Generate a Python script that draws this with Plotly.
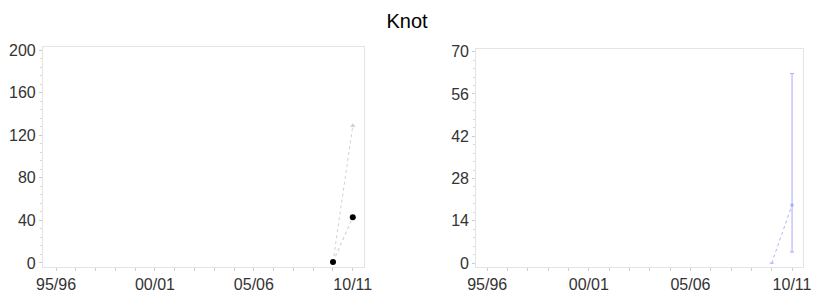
import plotly.graph_objects as go

# ---- data ----
years = [2009, 2010]
tick_years = [1995, 2000, 2005, 2010]
tick_labels = ["95/96", "00/01", "05/06", "10/11"]

left_circle = [1, 43]
left_triangle = [1, 129]

right_years = [2009, 2010]
right_values = [0, 19.2]
right_err_plus = [0, 43.6]
right_err_minus = [0, 15.5]

FONT = "Liberation Sans, Arial, sans-serif"

fig = go.Figure()

fig.add_trace(go.Scatter(
    x=years, y=left_triangle, mode="lines+markers", xaxis="x", yaxis="y",
    line=dict(color="#d0d0d0", width=1, dash="3px,3px"),
    marker=dict(symbol="triangle-up", size=[0, 4], color="#a8a8a8"),
    showlegend=False))
fig.add_trace(go.Scatter(
    x=years, y=left_circle, mode="lines+markers", xaxis="x", yaxis="y",
    line=dict(color="#c8c8c8", width=1, dash="3px,3px"),
    marker=dict(symbol="circle", size=6, color="#000000"),
    showlegend=False))

fig.add_trace(go.Scatter(
    x=right_years, y=right_values, mode="lines+markers", xaxis="x2", yaxis="y2",
    line=dict(color="#b0b0ff", width=1, dash="3px,3px"),
    marker=dict(size=[0, 3], color="#a0a0ff"),
    error_y=dict(type="data", array=right_err_plus, arrayminus=right_err_minus,
                 color="#b0b0ff", thickness=1.1, width=2, symmetric=False),
    showlegend=False))

axis_common = dict(
    showline=True, linecolor="#e4e4e4", linewidth=1, mirror=True,
    showgrid=False, zeroline=False, automargin=False,
    tickfont=dict(family=FONT, size=16, color="#333333"),
    ticks="outside", ticklen=3, tickcolor="#cccccc",
)

xcommon = dict(axis_common, tickmode="array", tickvals=tick_years, ticktext=tick_labels,
               minor=dict(dtick=1, ticks="outside", ticklen=3, tickcolor="#cccccc"))

fig.update_layout(
    width=814, height=297,
    margin=dict(l=0, r=0, t=0, b=0, autoexpand=False),
    paper_bgcolor="white", plot_bgcolor="white",
    title=dict(text="Knot", x=0.5, xanchor="center", y=0.93, yanchor="middle",
               automargin=False,
               font=dict(family=FONT, size=20, color="#000000")),
    xaxis=dict(xcommon, domain=[0.0528, 0.447], range=[1994.34, 2010.56], anchor="y"),
    yaxis=dict(axis_common, domain=[0.101, 0.842], range=[-3.8, 203], anchor="x",
               tickvals=[0, 40, 80, 120, 160, 200],
               minor=dict(dtick=8, ticks="outside", ticklen=2, tickcolor="#d8d8d8")),
    xaxis2=dict(xcommon, domain=[0.585, 0.9865], range=[1994.46, 2010.54], anchor="y2"),
    yaxis2=dict(axis_common, domain=[0.101, 0.835], range=[-1.3, 70.9], anchor="x2",
                tickvals=[0, 14, 28, 42, 56, 70],
                minor=dict(dtick=2.8, ticks="outside", ticklen=2, tickcolor="#d8d8d8")),
)

fig.write_html("out.html", config={"displayModeBar": False},
               post_script="document.body.style.margin='0';document.body.style.overflow='hidden';")
